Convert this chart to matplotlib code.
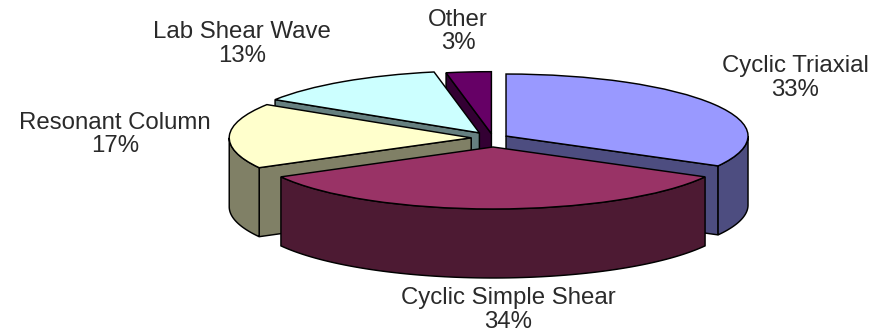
import numpy as np
import matplotlib
matplotlib.use("Agg")
import matplotlib.pyplot as plt

categories = ["Cyclic Triaxial", "Cyclic Simple Shear", "Resonant Column", "Lab Shear Wave", "Other"]
values = [33, 34, 17, 13, 3]
explode = [0.0625, 0.145, 0.09, 0.1, 0.07]
top_colors = ["#9999FF", "#993366", "#FFFFCC", "#CCFFFF", "#660066"]
side_colors = ["#4D4D80", "#4D1A33", "#808066", "#668080", "#330033"]
draw_order = [4, 5, 3, 2, 1]
label_pos = [(795, 78), (508, 310), (115, 134.5), (242, 44), (458, 31.5)]

W, H = 873, 336
CX, CY, RX, RY, DEPTH_PX = 493, 138, 242, 62, 69
LW = 1.05

fig = plt.figure(figsize=(W / 100, H / 100), dpi=100, facecolor="white")
ax = fig.add_axes([0, 0, 1, 1])
wedges, _ = ax.pie(values, explode=explode, startangle=90, counterclock=False,
                   colors=top_colors, radius=1,
                   wedgeprops=dict(edgecolor="black", linewidth=LW))
ax.set_aspect("auto")
ax.set_xlim(-CX / RX, (W - CX) / RX)
ax.set_ylim((CY - H) / RY, CY / RY)
ax.axis("off")
depth = DEPTH_PX / RY


def arc(w, a, b):
    t = np.radians(np.linspace(a, b, 80))
    return w.center[0] + w.r * np.cos(t), w.center[1] + w.r * np.sin(t)


for w, side, z in zip(wedges, side_colors, draw_order):
    w.set_zorder(z + 0.3)
    cx, cy = w.center
    # visible radial cut faces
    for th, vis in ((w.theta1, np.cos(np.radians(w.theta1)) > 1e-6),
                    (w.theta2, np.cos(np.radians(w.theta2)) < -1e-6)):
        if vis:
            ex, ey = arc(w, th, th)
            xs = [cx, ex[0], ex[0], cx]
            ys = [cy, ey[0], ey[0] - depth, cy - depth]
            ax.fill(xs, ys, facecolor=side, edgecolor="black", linewidth=LW, zorder=z + 0.1)
    # visible outer wall (front half of the ellipse)
    for off in (-360, 0):
        a, b = max(w.theta1, -180 + off), min(w.theta2, 0 + off)
        if b > a:
            x, y = arc(w, a, b)
            ax.fill(np.r_[x, x[::-1]], np.r_[y, y[::-1] - depth],
                    facecolor=side, edgecolor="black", linewidth=LW, zorder=z + 0.2)

for name, v, (px, py) in zip(categories, values, label_pos):
    fig.text(px / W, 1 - py / H, f"{name}\n{v}%", ha="center", va="center",
             family="Liberation Sans", fontsize=17.3, color="#2a2a2a", linespacing=1.08)

fig.savefig("out.png", dpi=100, facecolor="white")
